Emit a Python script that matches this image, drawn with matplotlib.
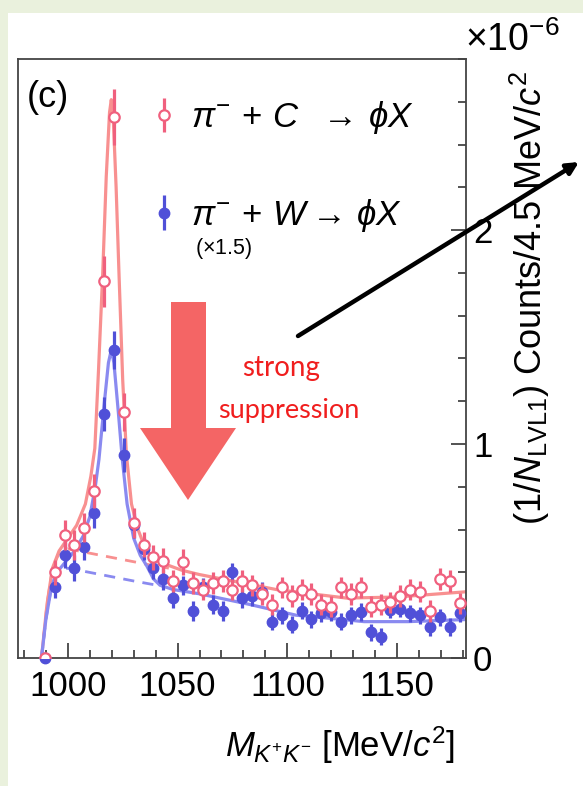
import numpy as np
import matplotlib
matplotlib.use("Agg")
import matplotlib.pyplot as plt
from matplotlib.patches import Rectangle, Polygon
from matplotlib.ticker import MultipleLocator

plt.rcParams['font.family'] = ['Liberation Sans', 'DejaVu Sans']
plt.rcParams['mathtext.fontset'] = 'custom'
plt.rcParams['mathtext.rm'] = 'Liberation Sans'
plt.rcParams['mathtext.it'] = 'Liberation Sans:italic'

# K+K- invariant mass bins (4.5 MeV wide), values in units of 1e-6
mass = [989.5, 994.0, 998.5, 1003.0, 1007.5, 1012.0, 1016.5, 1021.0, 1025.5, 1030.0,
        1034.5, 1039.0, 1043.5, 1048.0, 1052.5, 1057.0, 1061.5, 1066.0, 1070.5, 1075.0,
        1079.5, 1084.0, 1088.5, 1093.0, 1097.5, 1102.0, 1106.5, 1111.0, 1115.5, 1120.0,
        1124.5, 1129.0, 1133.5, 1138.0, 1142.5, 1147.0, 1151.5, 1156.0, 1160.5, 1165.0,
        1169.5, 1174.0, 1178.5]

carbon = [0.00, 0.40, 0.575, 0.53, 0.61, 0.78, 1.76, 2.53, 1.15, 0.63,
          0.53, 0.47, 0.455, 0.36, 0.45, 0.35, 0.32, 0.35, 0.36, 0.32,
          0.36, 0.34, 0.30, 0.25, 0.33, 0.29, 0.32, 0.30, 0.25, 0.24,
          0.33, 0.30, 0.33, 0.24, 0.25, 0.26, 0.29, 0.32, 0.31, 0.22,
          0.37, 0.36, 0.255]
carbon_err = [0.02, 0.06, 0.07, 0.07, 0.07, 0.08, 0.12, 0.13, 0.09, 0.07,
              0.06, 0.06, 0.06, 0.05, 0.06, 0.05, 0.05, 0.05, 0.05, 0.05,
              0.05, 0.05, 0.05, 0.05, 0.05, 0.05, 0.05, 0.05, 0.05, 0.05,
              0.05, 0.05, 0.05, 0.05, 0.05, 0.05, 0.05, 0.05, 0.05, 0.05,
              0.05, 0.05, 0.05]

tungsten = [0.00, 0.33, 0.48, 0.42, 0.52, 0.68, 1.14, 1.44, 0.95, 0.62,
            0.51, 0.42, 0.37, 0.28, 0.34, 0.22, 0.33, 0.25, 0.22, 0.40,
            0.28, 0.29, 0.31, 0.17, 0.20, 0.155, 0.22, 0.18, 0.21, 0.215,
            0.17, 0.20, 0.215, 0.12, 0.10, 0.225, 0.23, 0.21, 0.20, 0.145,
            0.19, 0.145, 0.21]
tungsten_err = [0.02, 0.05, 0.06, 0.06, 0.06, 0.07, 0.08, 0.09, 0.08, 0.06,
                0.05, 0.05, 0.05, 0.045, 0.045, 0.045, 0.045, 0.045, 0.045, 0.045,
                0.045, 0.045, 0.045, 0.04, 0.04, 0.04, 0.04, 0.04, 0.04, 0.04,
                0.04, 0.04, 0.04, 0.04, 0.04, 0.04, 0.04, 0.04, 0.04, 0.04,
                0.04, 0.04, 0.04]

# fit curves
c_fit_m = [988, 990.5, 993, 996, 1000, 1004, 1008, 1010.5, 1012.3, 1014, 1015.9, 1017.5,
           1019, 1019.8, 1020.8, 1022, 1023.3, 1025, 1026.7, 1029, 1032, 1035, 1038,
           1044, 1052, 1060, 1075, 1095, 1127, 1150, 1182]
c_fit_v = [0.0, 0.25, 0.42, 0.50, 0.56, 0.62, 0.72, 0.85, 0.98, 1.35, 1.80, 2.25,
           2.55, 2.61, 2.50, 2.20, 1.80, 1.30, 0.95, 0.72, 0.60, 0.52, 0.47,
           0.44, 0.41, 0.39, 0.36, 0.32, 0.28, 0.285, 0.31]
c_bkg_m = [988, 990.5, 993, 996, 1000, 1010, 1020, 1030, 1040, 1046]
c_bkg_v = [0.0, 0.25, 0.42, 0.49, 0.51, 0.49, 0.47, 0.45, 0.43, 0.42]

w_fit_m = [988, 990, 992.5, 995, 999, 1003, 1007, 1010, 1012.5, 1014.2, 1016.5, 1018.5,
           1019.8, 1021, 1023, 1024.8, 1027, 1030, 1033, 1036, 1039, 1042, 1048,
           1060, 1083, 1104, 1120, 1135, 1155, 1182]
w_fit_v = [0.0, 0.18, 0.33, 0.40, 0.45, 0.50, 0.57, 0.66, 0.80, 0.93, 1.18, 1.38,
           1.44, 1.38, 1.15, 0.93, 0.72, 0.56, 0.48, 0.43, 0.37, 0.34, 0.32,
           0.30, 0.25, 0.20, 0.185, 0.17, 0.17, 0.18]
w_bkg_m = [988, 990, 992.5, 995, 1000, 1010, 1020, 1030, 1038, 1044]
w_bkg_v = [0.0, 0.18, 0.33, 0.40, 0.42, 0.40, 0.38, 0.36, 0.345, 0.335]

pink = '#F0607E'
pink_line = '#F89090'
blue = '#5050D8'
blue_line = '#8A8AF0'

W, H = 583, 786


def fx(px):
    return px / W


def fy(py):
    return 1 - py / H


fig = plt.figure(figsize=(W / 100, H / 100), dpi=100)
fig.patch.set_facecolor('#EAF1DD')
fig.patches.append(Rectangle((fx(8), 0), 1, fy(13), transform=fig.transFigure,
                             facecolor='white', edgecolor='none', zorder=-1))

ax = fig.add_axes([fx(18), fy(658), fx(466) - fx(18), fy(59) - fy(658)])
ax.patch.set_alpha(0)

ax.plot(c_fit_m, c_fit_v, color=pink_line, lw=2.3, zorder=2)
ax.plot(c_bkg_m, c_bkg_v, color=pink_line, lw=2.0, ls=(0, (4, 3)), zorder=2)
ax.plot(w_fit_m, w_fit_v, color=blue_line, lw=2.3, zorder=2)
ax.plot(w_bkg_m, w_bkg_v, color=blue_line, lw=2.0, ls=(0, (4, 3)), zorder=2)

hw = ax.errorbar(mass, tungsten, yerr=tungsten_err, fmt='o', ms=7.5, color=blue,
                 mfc=blue, mec=blue, elinewidth=2.3, capsize=0, zorder=4, clip_on=False)
hc = ax.errorbar(mass, carbon, yerr=carbon_err, fmt='o', ms=7.5, color=pink,
                 mfc='white', mec=pink, mew=1.6, elinewidth=2.3, capsize=0, zorder=5)

ax.set_xlim(977.3, 1181.4)
ax.set_ylim(0, 2.8)
ax.xaxis.set_major_locator(MultipleLocator(50))
ax.xaxis.set_minor_locator(MultipleLocator(10))
ax.yaxis.set_major_locator(MultipleLocator(1))
ax.yaxis.set_minor_locator(MultipleLocator(0.2))
ax.tick_params(axis='x', which='both', direction='in', top=False, bottom=True,
               labelsize=25, pad=9, width=1.3, color='#444444')
ax.tick_params(axis='y', which='both', direction='in', left=False, right=True,
               labelleft=False, labelright=True, labelsize=25, pad=5, width=1.3,
               color='#444444')
ax.tick_params(which='major', length=11)
ax.tick_params(which='minor', length=5.5)
for s in ax.spines.values():
    s.set_linewidth(1.3)
    s.set_color('#444444')

# legend
labels = [r'$\pi^{-}\/ +\/ C\ \ \rightarrow\/ \phi X$', r'$\pi^{-}\/ +\/ W \rightarrow\/ \phi X$']
leg = ax.legend([hc, hw], labels, loc='upper left', bbox_to_anchor=(0.232, 0.985),
                frameon=False, fontsize=25, handlelength=0.6, handletextpad=0.5,
                labelspacing=1.75)
ax.text(0.395, 0.683, r'($\times$1.5)', transform=ax.transAxes, fontsize=15.5,
        ha='left', va='center')
ax.text(0.02, 0.935, '(c)', transform=ax.transAxes, fontsize=26, ha='left', va='center')

# axis titles
fig.text(fx(340), fy(745), r'$M_{K^{+}K^{-}}$ [MeV/$c^{2}$]', fontsize=25,
         ha='center', va='center')
fig.text(fx(530), fy(298), r'$(1/N_{\rm LVL1})$ Counts/4.5 MeV/$c^{2}$', fontsize=26,
         rotation=90, ha='center', va='center')
fig.text(fx(465), fy(40), r'$\times$10$^{-6}$', fontsize=27, ha='left', va='center')

# big red arrow
arrow_px = [(171, 302), (206, 302), (206, 428), (236, 428), (188, 500), (140, 428), (171, 428)]
fig.patches.append(Polygon([(fx(x), fy(y)) for x, y in arrow_px], closed=True,
                           transform=fig.transFigure, facecolor='#F46565',
                           edgecolor='none', zorder=3))
fig.text(fx(281), fy(368), 'strong', color='#F01E1E', fontsize=20,
         family=['Lato', 'DejaVu Sans'], ha='center', va='center', zorder=4)
fig.text(fx(289), fy(410), 'suppression', color='#F01E1E', fontsize=19.5,
         family=['Lato', 'DejaVu Sans'], ha='center', va='center', zorder=4)

# black pointer arrow
ax.annotate('', xy=(579, H - 162), xycoords='figure pixels',
            xytext=(298, H - 336), textcoords='figure pixels',
            arrowprops=dict(arrowstyle='-|>,head_length=0.7,head_width=0.35',
                            color='black', lw=3.2, shrinkA=0, shrinkB=0),
            annotation_clip=False)

fig.savefig('out.png', dpi=100, facecolor=fig.get_facecolor())
